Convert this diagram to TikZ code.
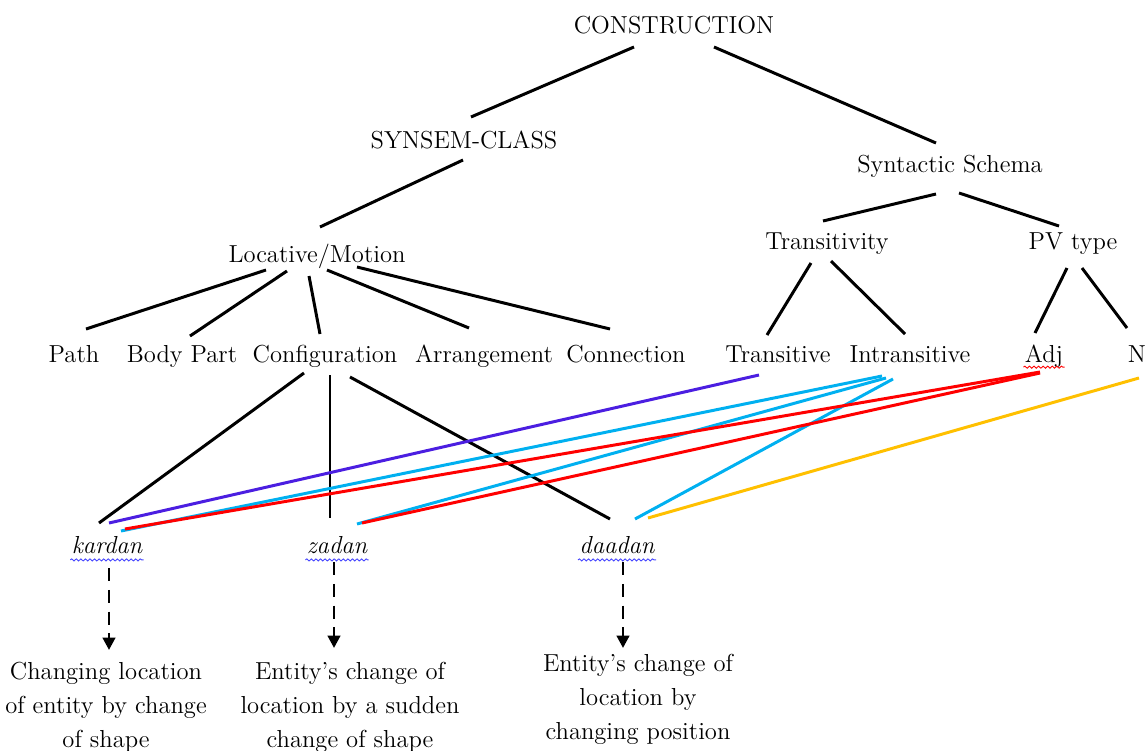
\documentclass[tikz,border=0pt]{standalone}
\usepackage{tikz}
\usetikzlibrary{arrows.meta,decorations.pathmorphing}
\definecolor{violetline}{RGB}{75,30,225}
\definecolor{cyanline}{RGB}{0,176,240}
\definecolor{redline}{RGB}{255,0,0}
\definecolor{goldline}{RGB}{255,192,0}
\definecolor{squigblue}{RGB}{70,70,255}

\begin{document}
\begin{tikzpicture}[x=0.02cm, y=-0.02cm, line width=1.7pt,
		every node/.style={inner sep=0pt, font=\fontsize{14}{19.3}\selectfont},
		term/.style={text height=10pt, text depth=3pt},
		verb/.style={term, font=\fontsize{14}{19.3}\selectfont\itshape},
		note/.style={align=center, anchor=north},
		squig/.style={line width=0.5pt, decorate, decoration={snake, amplitude=0.6pt, segment length=2.6pt}},
		dasharrow/.style={dash pattern=on 7.4pt off 5pt, -{Triangle[width=7pt,length=7pt]}}]
			\useasboundingbox (0,0) rectangle (1147,751);
			\node [term] (CON) at (674,27) {CONSTRUCTION};
			\node [term] (SYN) at (464,142) {SYNSEM-CLASS};
			\node [term] (SCH) at (950,166) {Syntactic Schema};
			\node [term] (LOC) at (317,256) {Locative/Motion};
			\node [term] (TRY) at (827,243) {Transitivity};
			\node [term] (PVT) at (1073,243) {PV type};
			\node [term] (PAT) at (74,356) {Path};
			\node [term] (BOD) at (182,356) {Body Part};
			\node [term] (CFG) at (325,356) {Configuration};
			\node [term] (ARR) at (484,356) {Arrangement};
			\node [term] (CNX) at (626,356) {Connection};
			\node [term] (TR) at (778,356) {Transitive};
			\node [term] (IN) at (910,356) {Intransitive};
			\node [term] (ADJ) at (1044,356) {Adj};
			\node [term] (NN) at (1137,356) {N};
			\node [verb] (KAR) at (107,547) {kardan};
			\node [verb] (ZAD) at (337,547) {zadan};
			\node [verb] (DAA) at (617,547) {daadan};
			\node [note] (D1) at (106,661) {Changing location\\of entity by change\\of shape};
			\node [note] (D2) at (350,661) {Entity's change of\\location by a sudden\\change of shape};
			\node [note] (D3) at (638,653) {Entity's change of\\location by\\changing position};
			% tree
			\path ([shift={(-40,20)}]CON.center) edge ([shift={(7,-25)}]SYN.center);
			\path ([shift={(40,20)}]CON.center) edge ([shift={(-14,-23)}]SCH.center);
			\path ([shift={(-1,18)}]SYN.center) edge ([shift={(3,-29)}]LOC.center);
			\path ([shift={(-14,28)}]SCH.center) edge ([shift={(-4,-22)}]TRY.center);
			\path ([shift={(9,27)}]SCH.center) edge ([shift={(-14,-17)}]PVT.center);
			\path ([shift={(-51,14)}]LOC.center) edge ([shift={(12,-27)}]PAT.center);
			\path ([shift={(-30,15)}]LOC.center) edge ([shift={(8,-20)}]BOD.center);
			\path ([shift={(-8,20)}]LOC.center) edge ([shift={(-5,-22)}]CFG.center);
			\path ([shift={(10,14)}]LOC.center) edge ([shift={(-15,-28)}]ARR.center);
			\path ([shift={(40,11)}]LOC.center) edge ([shift={(-16,-27)}]CNX.center);
			\path ([shift={(-16,20)}]TRY.center) edge ([shift={(-11,-21)}]TR.center);
			\path ([shift={(4,18)}]TRY.center) edge ([shift={(-5,-22)}]IN.center);
			\path ([shift={(-6,25)}]PVT.center) edge ([shift={(-9,-23)}]ADJ.center);
			\path ([shift={(9,25)}]PVT.center) edge ([shift={(-10,-28)}]NN.center);
			\path ([shift={(-21,17)}]CFG.center) edge ([shift={(-8,-24)}]KAR.center);
			\path ([shift={(5,19)}]CFG.center) edge ([shift={(-7,-29)}]ZAD.center);
			\path ([shift={(25,21)}]CFG.center) edge ([shift={(-7,-28)}]DAA.center);
			% links to the verbs
			\path [violetline] ([shift={(-19,19)}]TR.center) edge ([shift={(2,-24)}]KAR.center);
			\path [cyanline] ([shift={(-28,20)}]IN.center) edge ([shift={(14,-16)}]KAR.center);
			\path [cyanline] ([shift={(-24,22)}]IN.center) edge ([shift={(20,-23)}]ZAD.center);
			\path [cyanline] ([shift={(-17,23)}]IN.center) edge ([shift={(18,-28)}]DAA.center);
			\path [redline] ([shift={(-4,16)}]ADJ.center) edge ([shift={(18,-18)}]KAR.center);
			\path [redline] ([shift={(-4,17)}]ADJ.center) edge ([shift={(25,-24)}]ZAD.center);
			\path [goldline] ([shift={(2,22)}]NN.center) edge ([shift={(31,-29)}]DAA.center);
			% meanings
			\draw [dasharrow] ([shift={(2,21)}]KAR.center) -- ([shift={(3,-11)}]D1.north);
			\draw [dasharrow] ([shift={(-3,15)}]ZAD.center) -- ([shift={(-16,-13)}]D2.north);
			\draw [dasharrow] ([shift={(6,15)}]DAA.center) -- ([shift={(-15,-5)}]D3.north);
			% spell-check marks
			\draw [squig, squigblue] (KAR.south west) -- (KAR.south east);
			\draw [squig, squigblue] (ZAD.south west) -- (ZAD.south east);
			\draw [squig, squigblue] (DAA.south west) -- (DAA.south east);
			\draw [squig, redline] ([yshift=1pt]ADJ.south west) -- ([yshift=1pt]ADJ.south east);
		\end{tikzpicture}
\end{document}
